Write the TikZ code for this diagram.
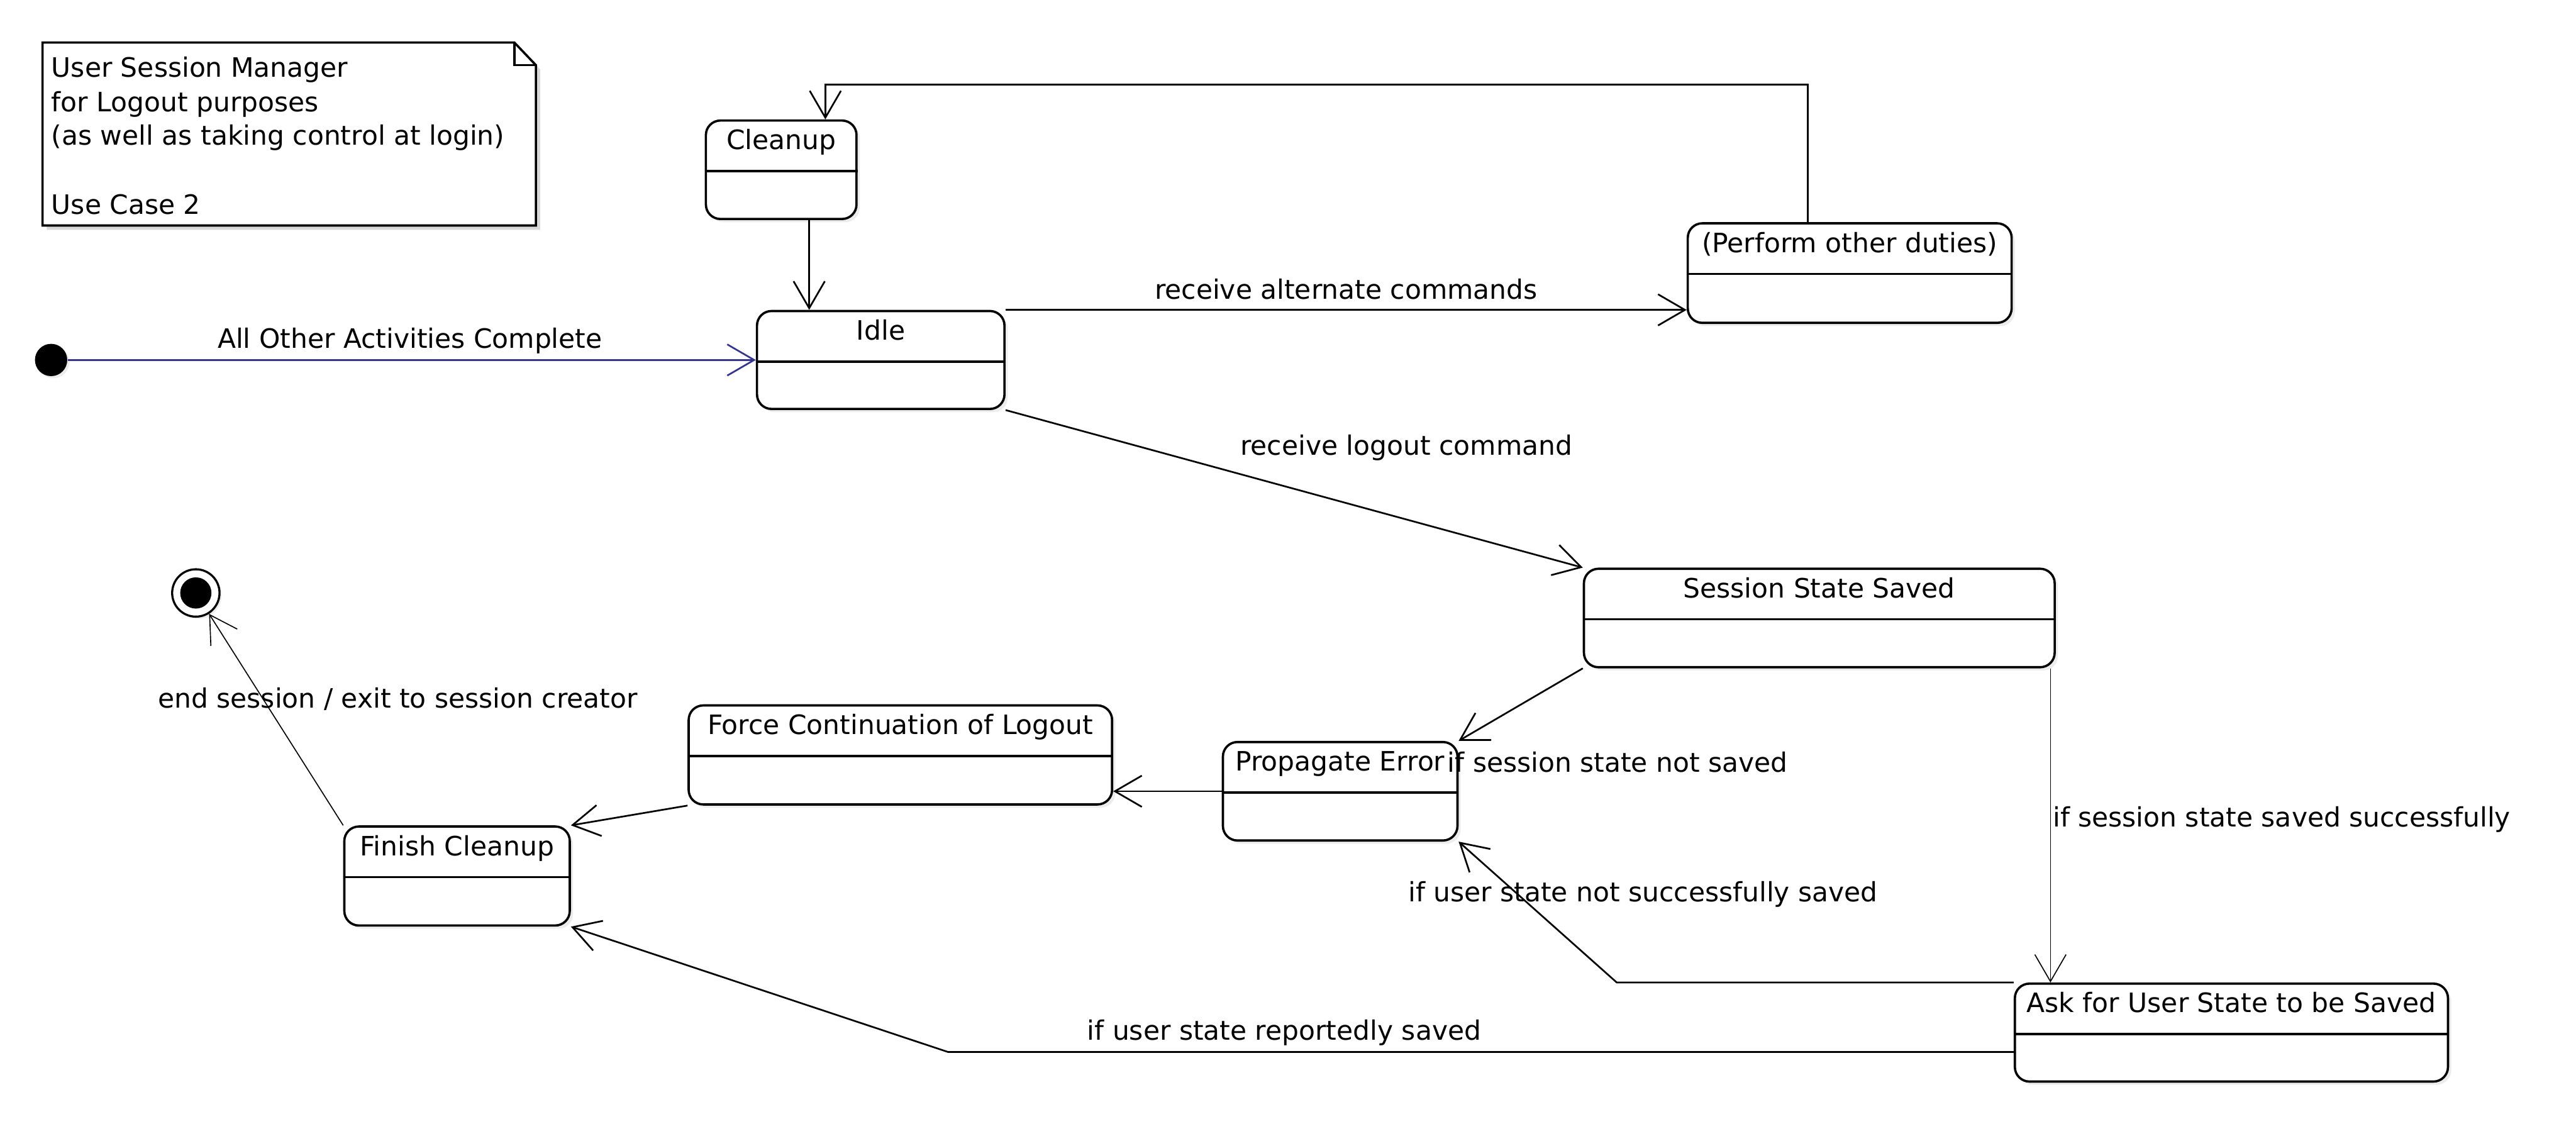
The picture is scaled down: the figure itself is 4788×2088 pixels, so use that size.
\documentclass[tikz,border=0pt]{standalone}
\usepackage{fontspec}
\setmainfont{DejaVu Sans}
\usetikzlibrary{arrows.meta,fit,shadows,calc}
\definecolor{initblue}{RGB}{51,51,153}
\newcommand\txtfont{\fontsize{14.1pt}{17pt}\selectfont}
\tikzset{
  statebox/.style={draw, line width=1.2pt, rounded corners=0.27cm, fill=white, inner sep=0pt,
    drop shadow={shadow xshift=0.06cm, shadow yshift=-0.06cm, fill=black!15}},
  statename/.style={anchor=base, inner sep=0pt, font=\txtfont},
  lbl/.style={inner sep=0pt, font=\txtfont},
  conn/.style={line width=0.9pt, -{Straight Barb[length=0.5cm,width=0.58cm]}},
  thinconn/.style={line width=0.55pt, -{Straight Barb[length=0.5cm,width=0.58cm]}},
}
\newcommand\umlstate[6]{%
  \node[statebox, fit={(#2,#3) (#4,#5)}] (#1) {};
  \draw[line width=1.2pt] ($(#1.north west)+(0,96)$) -- ($(#1.north east)+(0,96)$);
  \node[statename] (#1-name) at ($(#1.north)+(0,56)$) {#6};
}
\begin{document}
\begin{tikzpicture}[x=0.01cm, y=-0.01cm]
\useasboundingbox (0,0) rectangle (4788,2088);

% note
\fill[black!15] (87,87) -- (964,87) -- (1004,129) -- (1004,427) -- (87,427) -- cycle;
\draw[line width=1.2pt, fill=white] (79,79) -- (956,79) -- (996,121) -- (996,419) -- (79,419) -- cycle;
\draw[line width=1.2pt] (956,79) -- (956,121) -- (996,121);
\node[lbl, anchor=base west] (note-l1) at (95,143) {User Session Manager};
\node[lbl, anchor=base west] (note-l2) at (95,207) {for Logout purposes};
\node[lbl, anchor=base west] (note-l3) at (95,270) {(as well as taking control at login)};
\node[lbl, anchor=base west] (note-l4) at (95,398) {Use Case 2};

% initial and final states
\node[circle, fill=black, minimum size=0.6cm, inner sep=0pt,
  drop shadow={shadow xshift=0.04cm, shadow yshift=-0.04cm, fill=black!15}] (init) at (95,669) {};
\node[circle, draw, line width=1.1pt, fill=white, minimum size=0.88cm, inner sep=0pt,
  drop shadow={shadow xshift=0.04cm, shadow yshift=-0.04cm, fill=black!15}] (final) at (364,1102) {};
\fill (final.center) circle (0.29cm);

% states
\umlstate{cleanup}{1312}{224}{1592}{407}{Cleanup}
\umlstate{idle}{1407}{578}{1867}{760}{Idle}
\umlstate{perform}{3137}{415}{3739}{600}{(Perform other duties)}
\umlstate{session}{2944}{1057}{3819}{1240}{Session State Saved}
\umlstate{propagate}{2273}{1379}{2709}{1562}{Propagate Error}
\umlstate{force}{1280}{1311}{2067}{1495}{Force Continuation of Logout}
\umlstate{finish}{640}{1536}{1059}{1720}{Finish Cleanup}
\umlstate{ask}{3745}{1828}{4550}{2010}{Ask for User State to be Saved}

\coordinate (askbend) at (3005,0);
\coordinate (finbend) at (1762,0);

% connectors
\draw[conn, initblue] (init) -- (idle.west);
\draw[conn] ([xshift=0.52cm]cleanup.south) -- ([xshift=0.52cm]cleanup.south |- idle.north);
\draw[conn] ([xshift=-0.78cm]perform.north) -- ++(0,-256) -| ([xshift=0.82cm]cleanup.north);
\draw[conn] (idle.north east) -- (idle.north east -| perform.west);
\draw[conn] (idle.south east) -- (session.north west);
\draw[conn] (session.south west) -- (propagate.north east);
\draw[thinconn] ([xshift=-0.10cm]session.south east) -- ([xshift=-0.10cm]session.south east |- ask.north);
\draw[conn] (ask.north west) -- (ask.north west -| askbend) -- (propagate.south east);
\draw[conn] ([yshift=-0.36cm]ask.west) -- ([yshift=-0.36cm]ask.west -| finbend) -- (finish.south east);
\draw[conn] (propagate.west) -- (propagate.west -| force.east);
\draw[conn] (force.south west) -- (finish.north east);
\draw[thinconn] (finish.north west) -- (final);

% labels
\node[lbl, anchor=base] (l-init) at (762,647) {All Other Activities Complete};
\node[lbl, anchor=base] (l-alt) at (2502,556) {receive alternate commands};
\node[lbl, anchor=base] (l-logout) at (2614,846) {receive logout command};
\node[lbl, anchor=base west] (l-notsaved) at (2690,1435) {if session state not saved};
\node[lbl, anchor=base west] (l-saved) at (3815,1536) {if session state saved successfully};
\node[lbl, anchor=base west] (l-usernot) at (2617,1676) {if user state not successfully saved};
\node[lbl, anchor=base] (l-userok) at (2387,1933) {if user state reportedly saved};
\node[lbl, anchor=base west] (l-end) at (293,1316) {end session / exit to session creator};
\end{tikzpicture}
\end{document}
